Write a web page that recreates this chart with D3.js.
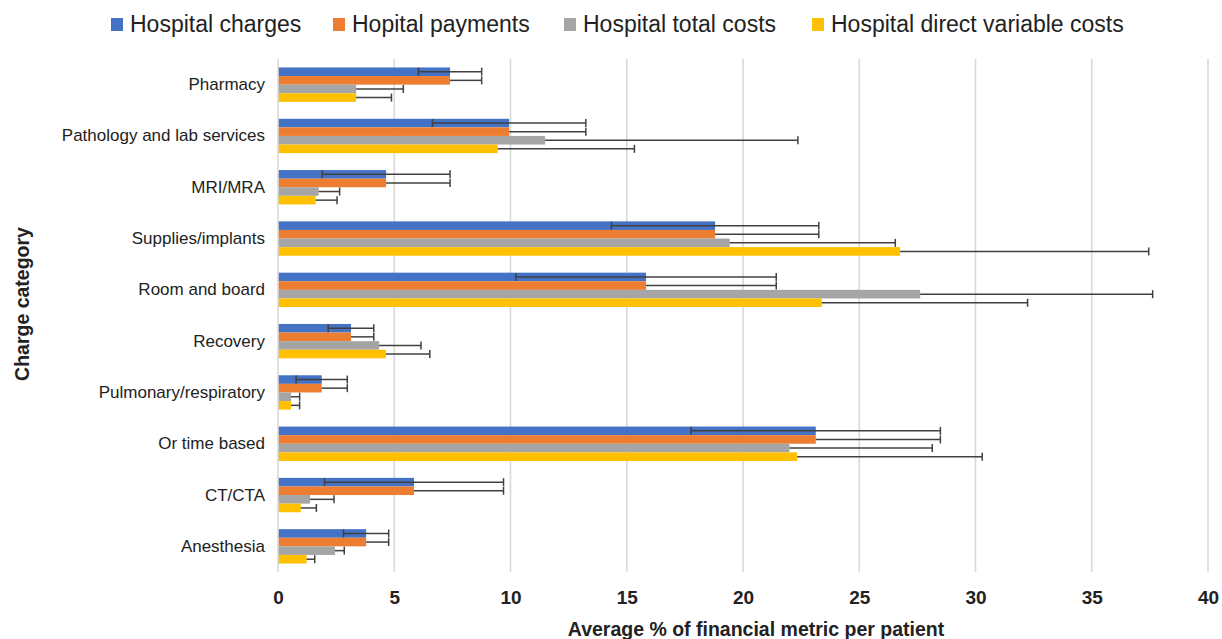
<!DOCTYPE html>
<html>
<head>
<meta charset="utf-8">
<script src="https://cdn.jsdelivr.net/npm/d3@7"></script>
<style>
  body { margin: 0; background: #fff; }
  text { font-family: "Liberation Sans", Arial, sans-serif; }
</style>
</head>
<body>
<div id="my_chart"></div>
<script>
// data
const categories = ["Pharmacy", "Pathology and lab services", "MRI/MRA", "Supplies/implants",
    "Room and board", "Recovery", "Pulmonary/respiratory", "Or time based", "CT/CTA", "Anesthesia"];
const seriesNames = ["Hospital charges", "Hopital payments", "Hospital total costs", "Hospital direct variable costs"];
const charges      = [7.4, 9.94, 4.65, 18.8, 15.83, 3.14, 1.88, 23.13, 5.85, 3.79];
const chargesErr   = [1.36, 3.3, 2.75, 4.46, 5.6, 0.98, 1.1, 5.36, 3.85, 0.97];
const payments     = [7.4, 9.94, 4.65, 18.8, 15.83, 3.14, 1.88, 23.13, 5.85, 3.79];
const paymentsErr  = [1.36, 3.3, 2.75, 4.46, 5.6, 0.98, 1.1, 5.36, 3.85, 0.97];
const totalCosts   = [3.36, 11.49, 1.75, 19.43, 27.62, 4.35, 0.56, 22.0, 1.38, 2.45];
const totalErr     = [2.03, 10.87, 0.9, 7.12, 10.0, 1.8, 0.37, 6.14, 1.03, 0.4];
const directCosts  = [3.36, 9.45, 1.62, 26.76, 23.39, 4.64, 0.56, 22.33, 0.98, 1.23];
const directErr    = [1.52, 5.88, 0.92, 10.69, 8.85, 1.89, 0.37, 7.96, 0.67, 0.35];
const xTicks = [0, 5, 10, 15, 20, 25, 30, 35, 40];

const colors = ["#4472C4", "#ED7D31", "#A5A5A5", "#FFC000"];
const values = [charges, payments, totalCosts, directCosts];
const errors = [chargesErr, paymentsErr, totalErr, directErr];

const W = 1222, H = 639;
const margin = { top: 59, right: 14, bottom: 67, left: 278 },
    width = W - margin.left - margin.right,
    height = H - margin.top - margin.bottom;

const root = d3.select("#my_chart")
    .append("svg")
    .attr("width", W)
    .attr("height", H);

const svg = root.append("g")
    .attr("transform", `translate(${margin.left},${margin.top})`);

// scales
const x = d3.scaleLinear().domain([0, 40]).range([0, 930]);
const y = d3.scaleBand().domain(categories).range([0, height]).paddingInner(0.33).paddingOuter(0.165);
const ySub = d3.scaleBand().domain(d3.range(4)).range([0, y.bandwidth()]);

// gridlines
svg.selectAll(".grid")
    .data(xTicks.slice(1))
    .join("line")
    .attr("x1", d => x(d)).attr("x2", d => x(d))
    .attr("y1", 0).attr("y2", height)
    .attr("stroke", "#d9d9d9")
    .attr("stroke-width", 1.6);

// bars
const rows = [];
categories.forEach((c, i) => {
    values.forEach((v, s) => rows.push({ cat: c, s: s, v: v[i], e: errors[s][i] }));
});

svg.selectAll(".bar")
    .data(rows)
    .join("rect")
    .attr("x", 0)
    .attr("y", d => y(d.cat) + ySub(d.s))
    .attr("width", d => x(d.v))
    .attr("height", ySub.bandwidth())
    .attr("fill", d => colors[d.s]);

// axis line
svg.append("line")
    .attr("x1", 0).attr("x2", 0)
    .attr("y1", 0).attr("y2", height)
    .attr("stroke", "#d9d9d9")
    .attr("stroke-width", 1.6);

// error bars
const eb = svg.selectAll(".err")
    .data(rows)
    .join("g")
    .attr("transform", d => `translate(0,${y(d.cat) + ySub(d.s) + ySub.bandwidth() / 2})`);

eb.append("line")
    .attr("x1", d => d.s === 0 ? x(d.v - d.e) : x(d.v))
    .attr("x2", d => x(d.v + d.e))
    .attr("stroke", "#404040")
    .attr("stroke-width", 1.5);
eb.append("line")
    .attr("x1", d => x(d.v + d.e)).attr("x2", d => x(d.v + d.e))
    .attr("y1", -4).attr("y2", 4)
    .attr("stroke", "#404040")
    .attr("stroke-width", 1.5);
eb.filter(d => d.s === 0).append("line")
    .attr("x1", d => x(d.v - d.e)).attr("x2", d => x(d.v - d.e))
    .attr("y1", -4).attr("y2", 4)
    .attr("stroke", "#404040")
    .attr("stroke-width", 1.5);

// x axis
const xAxis = svg.append("g")
    .attr("transform", `translate(0,${height})`)
    .call(d3.axisBottom(x).tickValues(xTicks).tickSize(0).tickPadding(19));
xAxis.select(".domain").remove();
xAxis.selectAll("text")
    .style("font-size", "19px")
    .style("font-weight", "bold")
    .attr("fill", "#222");

// y axis
const yAxis = svg.append("g")
    .call(d3.axisLeft(y).tickSize(0).tickPadding(13));
yAxis.select(".domain").remove();
yAxis.selectAll("text")
    .style("font-size", "17px")
    .attr("fill", "#222");

// axis titles
root.append("text")
    .attr("x", 756).attr("y", 636)
    .attr("text-anchor", "middle")
    .style("font-size", "19.5px")
    .style("font-weight", "bold")
    .attr("fill", "#222")
    .text("Average % of financial metric per patient");

root.append("text")
    .attr("transform", "translate(29,304) rotate(-90)")
    .attr("text-anchor", "middle")
    .style("font-size", "19.5px")
    .style("font-weight", "bold")
    .attr("fill", "#222")
    .text("Charge category");

// legend
const legendX = [111, 333, 564, 812];
const leg = root.selectAll(".legend")
    .data(seriesNames)
    .join("g")
    .attr("transform", (d, i) => `translate(${legendX[i]},24)`);
leg.append("rect")
    .attr("x", 0).attr("y", -6)
    .attr("width", 12).attr("height", 13)
    .attr("fill", (d, i) => colors[i]);
leg.append("text")
    .attr("x", 19).attr("y", 8)
    .style("font-size", "23px")
    .attr("fill", "#222")
    .text(d => d);
</script>
</body>
</html>
